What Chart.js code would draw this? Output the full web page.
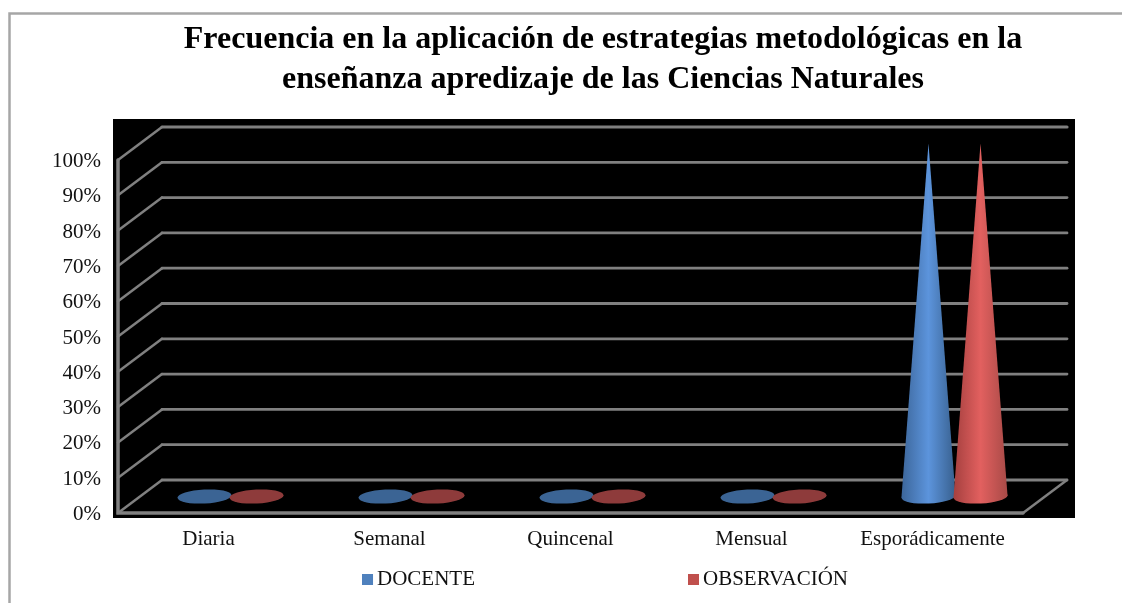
<!DOCTYPE html>
<html lang="es">
<head>
    <meta charset="UTF-8">
    <title>Frecuencia en la aplicación de estrategias metodológicas</title>
    <script src="https://cdn.jsdelivr.net/npm/chart.js"></script>
    <style>
        html, body { margin: 0; padding: 0; background: #fff; overflow: hidden; }
        #chart-box { width: 1122px; height: 603px; }
    </style>
</head>
<body>
    <div id="chart-box"><canvas id="frecuencia-chart"></canvas></div>

    <script>
        const titleLines = ['Frecuencia en la aplicación de estrategias metodológicas en la', 'enseñanza apredizaje de las Ciencias Naturales'];
        const categories = ['Diaria', 'Semanal', 'Quincenal', 'Mensual', 'Esporádicamente'];
        const docente = [0, 0, 0, 0, 100];
        const observacion = [0, 0, 0, 0, 100];
        const yTickLabels = ['0%', '10%', '20%', '30%', '40%', '50%', '60%', '70%', '80%', '90%', '100%'];

        const SERIF = '"Liberation Serif", "Times New Roman", serif';
        const DEPTH_X = 44;
        const DEPTH_Y = 33;
        const GRID = '#808080';

        // colores de cada serie: leyenda, disco plano y degradado del cono
        const shades = {
            DOCENTE: { legend: '#4F81BD', flat: '#3B6494', cone: ['#3C669A', '#5C94DC', '#38608E'] },
            'OBSERVACIÓN': { legend: '#C0504D', flat: '#8E3B3B', cone: ['#A5403F', '#E2605F', '#A84A47'] }
        };

        function drawCone(ctx, bar, colors) {
            const rx = bar.width / 2 + 1;
            const ry = 7;
            const tilt = -0.05;
            const cx = bar.x + DEPTH_X / 2;
            const cy = bar.base - DEPTH_Y / 2;
            const tipY = bar.y - DEPTH_Y / 2;

            ctx.save();
            if (tipY >= cy) {
                ctx.fillStyle = colors.flat;
            } else {
                const grad = ctx.createLinearGradient(cx - rx, 0, cx + rx, 0);
                grad.addColorStop(0, colors.cone[0]);
                grad.addColorStop(0.5, colors.cone[1]);
                grad.addColorStop(1, colors.cone[2]);
                ctx.fillStyle = grad;
            }
            ctx.beginPath();
            ctx.ellipse(cx, cy, rx, ry, tilt, 0, Math.PI * 2);
            ctx.fill();
            if (tipY < cy) {
                ctx.beginPath();
                ctx.moveTo(cx, tipY);
                ctx.lineTo(cx - rx, cy + 1);
                ctx.lineTo(cx + rx, cy - 1);
                ctx.closePath();
                ctx.fill();
            }
            ctx.restore();
        }

        const cone3d = {
            id: 'cone3d',
            beforeDraw(chart) {
                const { ctx, chartArea: a } = chart;
                ctx.save();
                // marco exterior, sale por la derecha y por abajo
                ctx.strokeStyle = '#A6A6A6';
                ctx.lineWidth = 2.5;
                ctx.strokeRect(9.5, 13.5, 1300, 700);
                // fondo negro del area 3D
                ctx.fillStyle = '#000';
                ctx.fillRect(a.left - 5, a.top - DEPTH_Y - 8, a.right - a.left + DEPTH_X + 13, a.bottom - a.top + DEPTH_Y + 13);
                ctx.restore();
            },
            afterLayout(chart) {
                // el titulo y la leyenda no estan centrados en el lienzo
                chart.titleBlock.left = 0;
                chart.titleBlock.right = 1206;
                const legend = chart.legend;
                const pad = legend.options.labels.padding;
                legend.left = 103;
                legend.right = 1107;
                legend.top = 569 - pad;
            },
            beforeDatasetsDraw(chart) {
                const { ctx, chartArea: a, scales: { y } } = chart;
                ctx.save();
                ctx.strokeStyle = GRID;
                ctx.lineCap = 'round';
                y.ticks.forEach((t) => {
                    const py = y.getPixelForValue(t.value);
                    ctx.lineWidth = 2.5;
                    ctx.beginPath();
                    ctx.moveTo(a.left, py);
                    ctx.lineTo(a.left + DEPTH_X, py - DEPTH_Y);
                    ctx.stroke();
                    ctx.lineWidth = t.value === 100 ? 3.2 : 2.8;
                    ctx.beginPath();
                    ctx.moveTo(a.left + DEPTH_X, py - DEPTH_Y);
                    ctx.lineTo(a.right + DEPTH_X, py - DEPTH_Y);
                    ctx.stroke();
                });
                // pared y suelo frontales
                ctx.lineWidth = 3.5;
                ctx.beginPath();
                ctx.moveTo(a.left, y.getPixelForValue(100));
                ctx.lineTo(a.left, a.bottom);
                ctx.lineTo(a.right, a.bottom);
                ctx.stroke();
                ctx.lineWidth = 2.5;
                ctx.beginPath();
                ctx.moveTo(a.right, a.bottom);
                ctx.lineTo(a.right + DEPTH_X, a.bottom - DEPTH_Y);
                ctx.stroke();
                ctx.restore();

                // la serie 2 va por encima de la 1, al reves del orden por defecto
                chart.data.datasets.forEach((ds, i) => {
                    chart.getDatasetMeta(i).data.forEach((bar) => drawCone(ctx, bar, shades[ds.label]));
                });
                return false;
            },
            afterDraw(chart) {
                // cuadro de leyenda mas ancho que el nativo, sin mover el texto
                const { ctx, legend } = chart;
                legend.legendItems.forEach((item, i) => {
                    const box = legend.legendHitBoxes[i];
                    ctx.fillStyle = item.fillStyle;
                    ctx.fillRect(box.left, 574, 11, 11);
                });
            }
        };

        new Chart(document.getElementById('frecuencia-chart'), {
            type: 'bar',
            plugins: [cone3d],
            data: {
                labels: categories,
                datasets: [
                    { label: 'DOCENTE', data: docente, backgroundColor: shades.DOCENTE.legend },
                    { label: 'OBSERVACIÓN', data: observacion, backgroundColor: shades['OBSERVACIÓN'].legend }
                ]
            },
            options: {
                responsive: true,
                maintainAspectRatio: false,
                animation: false,
                categoryPercentage: 0.575,
                barPercentage: 1,
                layout: { padding: { left: 0, right: 99, top: 0, bottom: 0 } },
                scales: {
                    x: {
                        grid: { display: false },
                        border: { display: false },
                        afterFit: (s) => { s.height = 50; },
                        ticks: { color: '#111', padding: 6, maxRotation: 0, autoSkip: false, font: { family: SERIF, size: 21 } }
                    },
                    y: {
                        min: 0,
                        max: 100,
                        grid: { display: false, drawTicks: false },
                        border: { display: false },
                        afterFit: (s) => { s.width = 118; },
                        ticks: {
                            stepSize: 10,
                            padding: 17,
                            labelOffset: 1.5,
                            color: '#111',
                            font: { family: SERIF, size: 21 },
                            callback: (v, i) => yTickLabels[i]
                        }
                    }
                },
                plugins: {
                    title: {
                        display: true,
                        text: titleLines,
                        color: '#000',
                        font: { family: SERIF, size: 32, weight: 'bold', lineHeight: 1.25 },
                        padding: { top: 20, bottom: 60 }
                    },
                    legend: {
                        position: 'bottom',
                        maxHeight: 40,
                        labels: {
                            boxWidth: 4.5,
                            boxHeight: 11,
                            padding: 213,
                            color: '#111',
                            font: { family: SERIF, size: 21 }
                        }
                    },
                    tooltip: { enabled: false }
                }
            }
        });
    </script>
</body>
</html>
